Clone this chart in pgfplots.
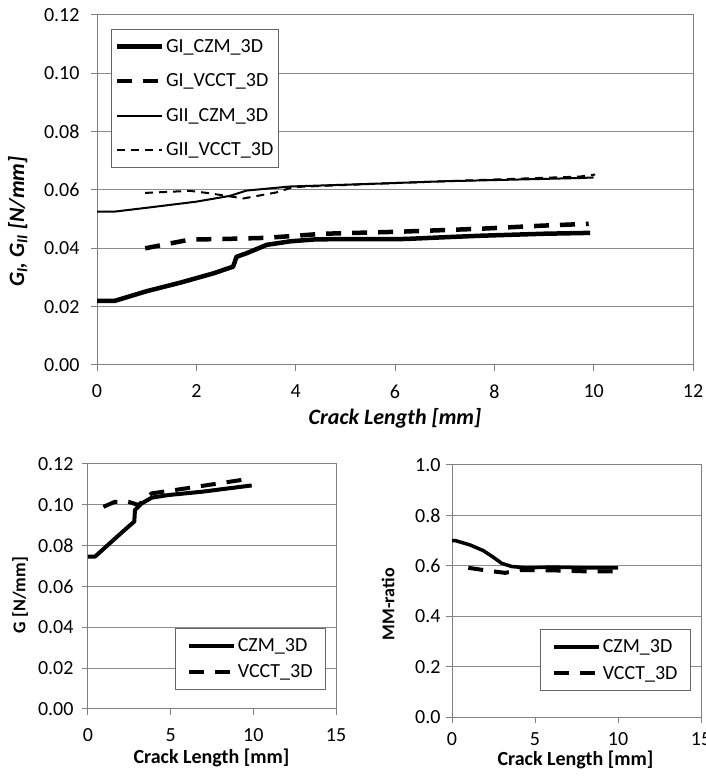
\documentclass[border=0pt]{standalone}
\usepackage{fontspec}
\setmainfont{Carlito}
\usepackage{pgfplots}
\pgfplotsset{compat=1.18}

\pgfplotsset{
  excel/.style={
    scale only axis,
    axis line style={draw=black!50, line width=1pt},
    tick style={draw=black!50, line width=1pt},
    ymajorgrids=true,
    grid style={draw=black!45, line width=1pt},
    tick align=outside,
    major tick length=6pt,
    xtick pos=left,
    ytick pos=left,
    ticklabel style={font=\fontsize{20}{24}\selectfont},
    xticklabel style={yshift=-10pt},
    /pgf/number format/assume math mode=true,
    legend cell align=left,
    legend style={draw=black!60, line width=1pt, font=\fontsize{20}{24}\selectfont,
      inner ysep=8pt},
    legend image code/.code={\draw[##1] (0pt,0pt) -- (45pt,0pt);},
  },
  thickline/.style={black, line width=4.5pt, line join=round},
  thickdash/.style={black, line width=4.5pt, dash pattern=on 15pt off 11pt},
  thinline/.style={black, line width=2pt, line join=round},
  thindash/.style={black, line width=2pt, dash pattern=on 8pt off 6pt},
}

\begin{document}
\begin{tikzpicture}
\useasboundingbox (0pt,0pt) rectangle (706pt,776pt);

% top: G_I and G_II
\begin{axis}[
  excel,
  at={(97pt,411pt)}, anchor=south west,
  width=596pt, height=350pt,
  xmin=0, xmax=12, ymin=0, ymax=0.12,
  xtick={0,2,...,12},
  ytick={0,0.02,0.04,0.06,0.08,0.10,0.12},
  yticklabel style={xshift=-8pt, /pgf/number format/.cd, fixed, fixed zerofill, precision=2},
  xlabel={\textbf{\textit{Crack Length [mm]}}},
  xlabel style={font=\fontsize{22}{26}\selectfont, at={(axis description cs:0.5,-0.151)}, anchor=center},
  ylabel={\textbf{\textit{G\textsubscript{I}, G\textsubscript{II} [N/mm]}}},
  ylabel style={font=\fontsize{22}{26}\selectfont, at={(axis description cs:-0.133,0.41)}, anchor=center},
  legend style={at={(0.0235,0.96)}, anchor=north west, row sep=16pt},
]
\addplot[thickline] coordinates {
  (0,0.022) (0.36,0.022) (1.0,0.0253) (1.67,0.0282) (2.34,0.0314) (2.74,0.0337)
  (2.81,0.0371) (3.01,0.0383) (3.42,0.0412) (3.89,0.0424) (4.42,0.0431)
  (6.2,0.0432) (7.0,0.0438) (7.7,0.0443) (9.0,0.0450) (9.93,0.0453)
};
\addlegendentry{GI\_CZM\_3D}
\addplot[thickdash] coordinates {
  (0.97,0.0400) (1.87,0.0430) (2.54,0.0432) (3.42,0.0436) (4.56,0.0450)
  (6.1,0.0457) (7.7,0.0467) (9.0,0.0478) (9.9,0.0484)
};
\addlegendentry{GI\_VCCT\_3D}
\addplot[thinline] coordinates {
  (0,0.0526) (0.36,0.0526) (1.0,0.0539) (2.0,0.0560) (2.68,0.0580) (3.01,0.0598)
  (3.89,0.0612) (5.7,0.0622) (7.0,0.0630) (8.5,0.0636) (9.72,0.0641) (10.0,0.0643)
};
\addlegendentry{GII\_CZM\_3D}
\addplot[thindash] coordinates {
  (0.97,0.0590) (1.87,0.0597) (2.21,0.0590) (2.68,0.0578) (2.95,0.0571)
  (3.62,0.0592) (3.95,0.0610) (5.7,0.0622) (7.5,0.0633) (9.72,0.0646) (10.03,0.0653)
};
\addlegendentry{GII\_VCCT\_3D}
\end{axis}

% bottom left: total G
\begin{axis}[
  excel,
  at={(88pt,67pt)}, anchor=south west,
  width=248pt, height=245pt,
  xmin=0, xmax=15, ymin=0, ymax=0.12,
  xtick={0,5,10,15},
  ytick={0,0.02,0.04,0.06,0.08,0.10,0.12},
  yticklabel style={xshift=-5pt, /pgf/number format/.cd, fixed, fixed zerofill, precision=2},
  xlabel={\textbf{Crack Length [mm]}},
  xlabel style={font=\fontsize{20}{24}\selectfont, at={(axis description cs:0.498,-0.2)}, anchor=center},
  ylabel={\textbf{G [N/mm]}},
  ylabel style={font=\fontsize{18}{22}\selectfont, at={(axis description cs:-0.274,0.465)}, anchor=center},
  legend style={at={(0.96,0.078)}, anchor=south east, row sep=8pt, inner xsep=11pt},
]
\addplot[thickline, line width=4pt] coordinates {
  (0,0.0746) (0.42,0.0746) (1.43,0.0820) (2.44,0.0893) (2.8,0.0918) (2.84,0.0975)
  (3.25,0.1007) (3.85,0.1035) (4.86,0.1048) (6.88,0.1064) (9.9,0.1095)
};
\addlegendentry{CZM\_3D}
\addplot[thickdash, line width=4pt] coordinates {
  (0.93,0.0990) (1.63,0.1015) (2.44,0.1015) (3.05,0.0999) (3.85,0.1056)
  (5.87,0.1080) (9.3,0.1122) (9.6,0.1125)
};
\addlegendentry{VCCT\_3D}
\end{axis}

% bottom right: mode mixity
\begin{axis}[
  excel,
  at={(452pt,59pt)}, anchor=south west,
  width=249pt, height=252pt,
  xmin=0, xmax=15, ymin=0, ymax=1,
  xtick={0,5,10,15},
  ytick={0,0.2,...,1.0},
  xticklabel style={yshift=4pt},
  yticklabel style={xshift=-2pt, /pgf/number format/.cd, fixed, fixed zerofill, precision=1},
  xlabel={\textbf{Crack Length [mm]}},
  xlabel style={font=\fontsize{20}{24}\selectfont, at={(axis description cs:0.496,-0.172)}, anchor=center},
  ylabel={\textbf{MM-ratio}},
  ylabel style={font=\fontsize{18}{22}\selectfont, at={(axis description cs:-0.257,0.448)}, anchor=center},
  legend style={at={(0.96,0.103)}, anchor=south east, row sep=8pt, inner xsep=11pt},
]
\addplot[thickline, line width=3.5pt] coordinates {
  (0,0.700) (0.2,0.700) (1.08,0.683) (1.89,0.660) (2.49,0.634) (2.99,0.610)
  (3.6,0.597) (4.5,0.592) (6,0.595) (8,0.592) (10,0.592)
};
\addlegendentry{CZM\_3D}
\addplot[thickdash, line width=4pt] coordinates {
  (0.98,0.592) (1.7,0.585) (2.59,0.577) (3.2,0.572) (4.1,0.583) (6,0.582)
  (8,0.578) (10,0.578)
};
\addlegendentry{VCCT\_3D}
\end{axis}
\end{tikzpicture}
\end{document}
